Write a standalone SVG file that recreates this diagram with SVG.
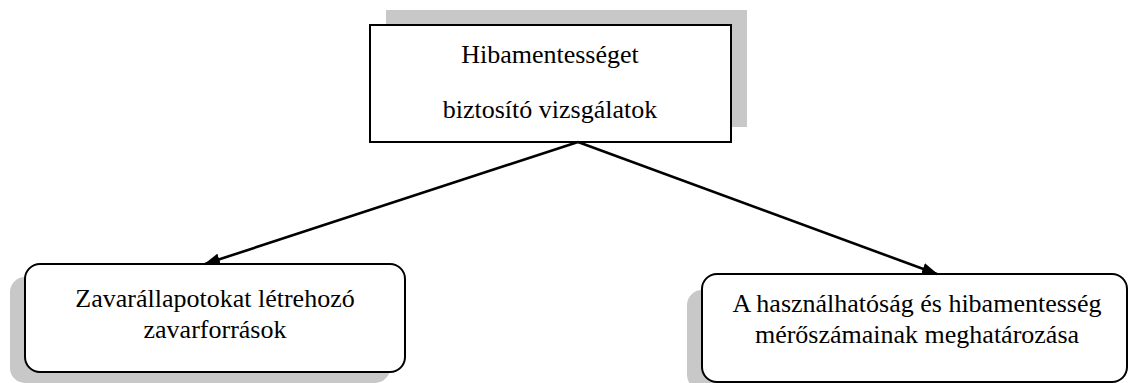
<svg xmlns="http://www.w3.org/2000/svg" width="1129" height="383" viewBox="0 0 1129 383">
<style>
.shadow{fill:#c8c8c8;stroke:none}
.box{fill:#fff;stroke:#000;stroke-width:2}
.t{font-family:'Liberation Serif','Times New Roman',Tinos,'DejaVu Serif',serif;font-size:26px;fill:#000;text-anchor:middle}
.conn{stroke:#000;stroke-width:2.6;fill:none}
</style>
<defs>
<marker id="ah" markerWidth="16" markerHeight="12" refX="15" refY="6" orient="auto" markerUnits="userSpaceOnUse">
<path d="M0,0 L16,6 L0,12 Z" fill="#000"/>
</marker>
</defs>
<rect width="1129" height="383" fill="#fff"/>
<g id="node-top">
<rect class="shadow" x="386" y="10" width="361" height="117"/>
<rect class="box" x="370" y="25" width="361" height="117"/>
<text class="t" x="550" y="63">Hibamentességet</text>
<text class="t" x="550" y="118">biztosító vizsgálatok</text>
</g>
<g id="node-left">
<rect class="shadow" x="10" y="277" width="380" height="106" rx="15"/>
<rect class="box" x="25" y="264" width="380" height="108" rx="15"/>
<text class="t" x="215" y="307">Zavarállapotokat létrehozó</text>
<text class="t" x="215" y="338">zavarforrások</text>
</g>
<g id="node-right">
<rect class="shadow" x="687" y="290" width="425" height="100" rx="15"/>
<rect class="box" x="702" y="274" width="425" height="108" rx="15"/>
<text class="t" x="917" y="312">A használhatóság és hibamentesség</text>
<text class="t" x="917" y="343">mérőszámainak meghatározása</text>
</g>
<g id="connectors">
<line class="conn" x1="578" y1="142" x2="205" y2="264" marker-end="url(#ah)"/>
<line class="conn" x1="578" y1="142" x2="937" y2="274" marker-end="url(#ah)"/>
</g>
</svg>
